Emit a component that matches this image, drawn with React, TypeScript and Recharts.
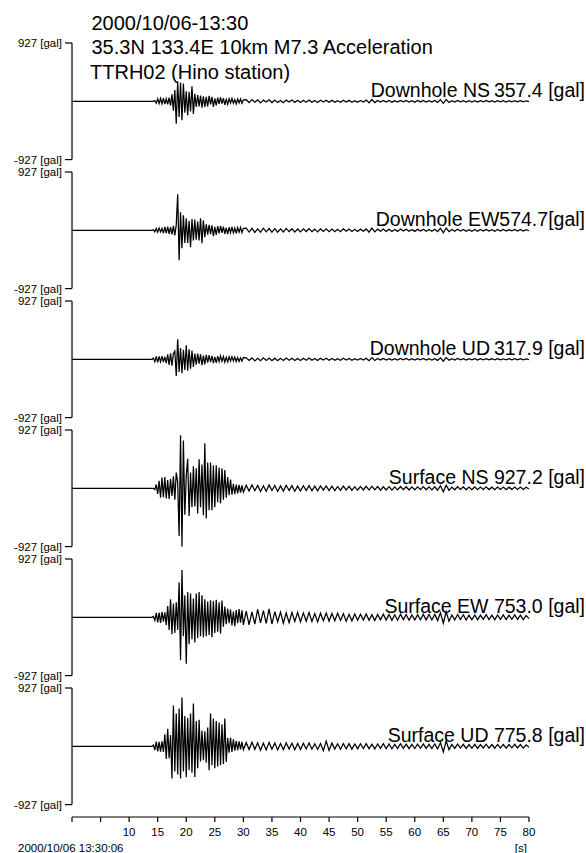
import React from 'react';
import { LineChart, Line, XAxis, YAxis } from 'recharts';

const W = 586;
const H = 853;
const FONT = '"Liberation Sans", Arial, Helvetica, sans-serif';

// sample times [s]: quiet start, 0.25 s through the strong motion, 0.5 s for the coda
const START_T = [0];
const FINE_T = Array.from({ length: 69 }, (_, i) => 13 + i * 0.25);
const TAIL_T = Array.from({ length: 100 }, (_, i) => 30.5 + i * 0.5);
const TIME = [...START_T, ...FINE_T, ...TAIL_T];

const X_TICKS = [0, 5, 10, 15, 20, 25, 30, 35, 40, 45, 50, 55, 60, 65, 70, 75, 80];
const Y_TICKS = [-927, 927];

const TITLE = ['2000/10/06-13:30', '35.3N 133.4E 10km M7.3 Acceleration', 'TTRH02 (Hino station)'];
const LABELS = [
  'Downhole NS\u2009357.4 [gal]',
  'Downhole EW574.7[gal]',
  'Downhole UD\u2009317.9 [gal]',
  'Surface NS 927.2 [gal]',
  'Surface EW 753.0 [gal]',
  'Surface UD 775.8 [gal]',
];

// acceleration [gal], 13..30 s every 0.25 s
const DH_NS_FINE = [
  0, 0, 0, 0,
  0, 0, 10, -30,
  40, -35, 45, -40,
  50, -45, 40, -50,
  60, -70, 110, -150,
  180, -357, 318, -250,
  300, -302, 281, -180,
  160, -220, 150, -160,
  240, -200, 120, -90,
  100, -80, 90, -100,
  80, -90, 70, -80,
  85, -50, 72, -90,
  48, -66, 58, -40,
  62, -38, 50, -55,
  30, -48, 42, -26,
  45, -32, 28, -40,
  36, -25, 38, -30,
  24,
];
// 30.5..80 s every 0.5 s
const DH_NS_TAIL = [
  25, -20, 28, -15, 22, -26, 18, -12, 24, -20,
  20, -18, 14, -22, 19, -10, 21, -17, 15, -20,
  18, -14, 20, -16, 12, -19, 16, -11, 18, -15,
  15, -17, 11, -14, 17, -12, 15, -16, 10, -14,
  14, -12, 18, -24, 28, -20, 14, -11, 15, -13,
  12, -14, 10, -13, 15, -9, 13, -12, 11, -14,
  12, -10, 14, -12, 11, -13, 12, -18, 26, -32,
  30, -18, 9, -12, 13, -10, 11, -12, 9, -11,
  10, -12, 11, -9, 12, -10, 9, -11, 10, -9,
  9, -11, 10, -8, 11, -9, 10, -10, 8, -6,
];

const DH_EW_FINE = [
  0, 0, 0, 0,
  0, 10, -25, 30,
  -30, 35, -25, 30,
  -50, 55, -45, 60,
  -55, 50, -65, 70,
  -80, 90, 574, -477,
  286, -286, 240, -200,
  190, -200, 150, -270,
  180, -160, 170, -150,
  140, -160, 190, -207,
  160, -110, 95, -70,
  85, -60, 78, -95,
  55, -75, 68, -48,
  70, -42, 60, -58,
  38, -62, 48, -35,
  55, -40, 36, -50,
  44, -30, 46, -36,
  30,
];
const DH_EW_TAIL = [
  35, -28, 30, -34, 22, -30, 33, -24, 28, -31,
  26, -30, 22, -27, 30, -20, 25, -28, 21, -26,
  24, -20, 26, -22, 18, -25, 22, -17, 24, -21,
  20, -23, 17, -21, 22, -16, 20, -19, 15, -20,
  18, -16, 22, -30, 34, -26, 18, -15, 19, -17,
  16, -18, 14, -17, 19, -13, 17, -15, 14, -17,
  15, -13, 17, -15, 14, -16, 15, -22, 32, -40,
  36, -22, 12, -15, 16, -12, 14, -15, 11, -14,
  13, -15, 14, -11, 15, -12, 11, -14, 13, -11,
  12, -13, 11, -10, 13, -11, 12, -12, 10, -7,
];

const DH_UD_FINE = [
  0, 0, 0, 0,
  0, 20, -40, 45,
  -50, 45, -40, 50,
  -45, 40, -60, 80,
  -90, 95, -100, 90,
  130, -265, 318, -200,
  180, -220, 150, -170,
  222, -180, 160, -150,
  140, -120, 90, -85,
  90, -70, 82, -95,
  60, -80, 72, -55,
  68, -45, 55, -62,
  40, -58, 50, -36,
  52, -32, 44, -46,
  30, -42, 38, -28,
  40, -26, 33, -35,
  27, -34, 24, -30,
  28,
];
const DH_UD_TAIL = [
  24, -19, 22, -25, 16, -21, 23, -17, 20, -22,
  18, -21, 15, -19, 21, -14, 18, -20, 14, -18,
  17, -14, 19, -15, 12, -18, 15, -11, 17, -14,
  14, -16, 11, -14, 16, -11, 14, -15, 10, -13,
  13, -11, 16, -22, 26, -18, 13, -10, 14, -12,
  11, -13, 10, -12, 14, -9, 12, -11, 10, -13,
  11, -10, 13, -11, 10, -12, 11, -17, 24, -30,
  27, -16, 9, -11, 12, -9, 10, -11, 8, -10,
  9, -11, 10, -8, 11, -9, 8, -10, 9, -8,
  8, -10, 9, -7, 10, -8, 9, -9, 7, -5,
];

const SF_NS_FINE = [
  0, 0, 0, 0,
  0, 0, -20, 60,
  -90, 120, -150, 170,
  -140, 180, -160, 130,
  -170, 150, -120, 190,
  -180, 250, 100, -760,
  845, -927, 760, -420,
  200, 470, -440, 250,
  -300, 350, -290, 320,
  -400, 460, -300, 380,
  -430, 715, -480, 410,
  -350, 410, -350, 365,
  -300, 365, -220, 330,
  -240, 320, -180, 290,
  -150, 180, -110, 140,
  -100, 70, -95, 60,
  -80, 55, -70, 48,
  -62,
];
const SF_NS_TAIL = [
  50, -42, 55, -38, 46, -52, 40, -47, 52, -36,
  44, -50, 38, -45, 48, -34, 42, -46, 35, -43,
  40, -35, 43, -38, 33, -41, 37, -30, 39, -36,
  34, -37, 29, -33, 36, -27, 31, -34, 26, -30,
  29, -26, 31, -28, 33, -25, 28, -30, 24, -27,
  26, -28, 22, -25, 28, -21, 25, -27, 22, -24,
  24, -21, 26, -23, 22, -25, 24, -30, 40, -55,
  50, -32, 20, -23, 25, -19, 22, -24, 19, -22,
  21, -23, 19, -18, 23, -20, 18, -21, 20, -19,
  19, -21, 18, -17, 21, -18, 19, -19, 16, -10,
];

const SF_EW_FINE = [
  0, 0, 0, 0,
  0, 15, -50, 70,
  -80, 75, -90, 85,
  -70, 80, -120, 180,
  -200, 286, -270, 220,
  -250, 240, -200, 556,
  -684, 753, -300, 350,
  -740, 400, -430, 380,
  -350, 300, -400, 380,
  -330, 400, -300, 350,
  -318, 286, -300, 250,
  -280, 270, -318, 260,
  -250, 280, -230, 240,
  -260, 265, -150, 170,
  -110, 140, -95, 125,
  -130, 90, -140, 115,
  -95, 130, -85, 110,
  -120,
];
const SF_EW_TAIL = [
  100, -120, 85, -110, 125, -90, 105, -95, 135, -110,
  90, -75, 82, -95, 70, -86, 78, -65, 80, -72,
  70, -62, 75, -68, 58, -72, 65, -55, 68, -60,
  60, -55, 64, -50, 58, -62, 48, -56, 52, -47,
  50, -45, 54, -48, 42, -52, 46, -40, 50, -44,
  45, -48, 40, -46, 50, -38, 44, -47, 39, -43,
  42, -38, 46, -40, 44, -42, 45, -52, 72, -95,
  88, -62, 36, -42, 45, -35, 40, -43, 34, -39,
  38, -41, 35, -33, 42, -36, 33, -39, 37, -34,
  36, -38, 33, -31, 39, -34, 35, -36, 30, -20,
];

const SF_UD_FINE = [
  0, 0, 0, 0,
  0, 20, -60, 75,
  -80, 70, -85, 80,
  -90, 190, -200, 280,
  -190, 180, -510, 650,
  -400, 520, -450, 600,
  -510, 776, -400, 480,
  -490, 450, -380, 520,
  -420, 680, -490, 400,
  -350, 420, -240, 250,
  -220, 240, -260, 300,
  -380, 520, -300, 440,
  -350, 400, -320, 380,
  -300, 350, -280, 440,
  -250, 130, -100, 140,
  -90, 110, -70, 85,
  -60, 80, -50, 72,
  -55,
];
const SF_UD_TAIL = [
  60, -52, 65, -48, 55, -62, 50, -57, 62, -46,
  52, -58, 45, -55, 57, -42, 50, -54, 44, -50,
  48, -42, 52, -46, 40, -50, 45, -70, 82, -65,
  50, -45, 40, -47, 44, -38, 42, -45, 36, -41,
  40, -36, 43, -39, 35, -42, 38, -33, 40, -37,
  36, -39, 32, -37, 40, -31, 35, -38, 31, -35,
  34, -31, 37, -33, 32, -35, 36, -42, 58, -90,
  85, -55, 30, -33, 36, -28, 32, -34, 28, -31,
  31, -33, 28, -27, 33, -29, 27, -31, 29, -27,
  29, -31, 27, -25, 31, -27, 28, -28, 24, -15,
];

const TRACES = [
  [DH_NS_FINE, DH_NS_TAIL],
  [DH_EW_FINE, DH_EW_TAIL],
  [DH_UD_FINE, DH_UD_TAIL],
  [SF_NS_FINE, SF_NS_TAIL],
  [SF_EW_FINE, SF_EW_TAIL],
  [SF_UD_FINE, SF_UD_TAIL],
];

const toData = (fine: number[], tail: number[]) => {
  const vals = [0, ...fine, ...tail];
  return TIME.map((t, i) => ({ t, v: vals[i] }));
};

// layout
const AXIS_W = 72;
const RIGHT = W - 529;
const PANEL_TOP = 42.7;
const PANEL_STEP = 129;
const PANEL_H = 116.6;
const PAD = 10;
const X_AXIS_Y = 817.3;

function Panel({ data, top }: { data: { t: number; v: number }[]; top: number }) {
  return (
    <div style={{ position: 'absolute', left: 0, top: top - PAD }}>
      <LineChart
        width={W}
        height={PANEL_H + 2 * PAD}
        data={data}
        margin={{ top: PAD, bottom: PAD, left: 0, right: RIGHT }}
      >
        <XAxis dataKey="t" type="number" domain={[0, 80]} hide />
        <YAxis
          type="number"
          domain={[-927, 927]}
          ticks={Y_TICKS}
          interval={0}
          width={AXIS_W}
          tickSize={7}
          tickMargin={3}
          tickFormatter={(v) => `${v} [gal]`}
          axisLine={{ stroke: '#000', strokeWidth: 1.2 }}
          tickLine={{ stroke: '#000', strokeWidth: 1.2 }}
          tick={{ fill: '#000', fontSize: 11.5, fontFamily: FONT }}
        />
        <Line
          dataKey="v"
          type="linear"
          stroke="#000"
          strokeWidth={1.25}
          dot={false}
          isAnimationActive={false}
        />
      </LineChart>
    </div>
  );
}

export default function App() {
  const datasets = TRACES.map(([fine, tail]) => toData(fine, tail));
  return (
    <div style={{ position: 'absolute', left: 0, top: 0, width: W, height: H, background: '#fff', fontFamily: FONT }}>
      {datasets.map((d, i) => (
        <Panel key={i} data={d} top={PANEL_TOP + i * PANEL_STEP} />
      ))}

      <div style={{ position: 'absolute', left: 0, top: X_AXIS_Y - 20 }}>
        <LineChart width={W} height={60} data={datasets[0]} margin={{ top: 5, bottom: 0, left: AXIS_W, right: RIGHT }}>
          <XAxis
            dataKey="t"
            type="number"
            domain={[0, 80]}
            ticks={X_TICKS}
            interval={0}
            height={40}
            tickSize={5}
            tickMargin={6}
            tickFormatter={(v) => (v < 10 ? '' : String(v))}
            axisLine={{ stroke: '#000', strokeWidth: 1.2 }}
            tickLine={{ stroke: '#000', strokeWidth: 1.2 }}
            tick={{ fill: '#000', fontSize: 11.5, fontFamily: FONT }}
          />
        </LineChart>
      </div>

      <svg width={W} height={H} style={{ position: 'absolute', left: 0, top: 0, pointerEvents: 'none' }}>
        <g fontFamily={FONT} fill="#000">
          {TITLE.map((s, i) => (
            <text key={s} x={i === 2 ? 90 : 91.5} y={30 + i * 24.3} fontSize={20}>
              {s}
            </text>
          ))}
          {LABELS.map((s, i) => (
            <text key={s} x={585} y={PANEL_TOP + i * PANEL_STEP + PANEL_H / 2 - 4} fontSize={19.5} textAnchor="end">
              {s}
            </text>
          ))}
          <text x={18} y={852} fontSize={11.5}>2000/10/06 13:30:06</text>
          <text x={527} y={852} fontSize={11.5} textAnchor="end">[s]</text>
        </g>
      </svg>
    </div>
  );
}
